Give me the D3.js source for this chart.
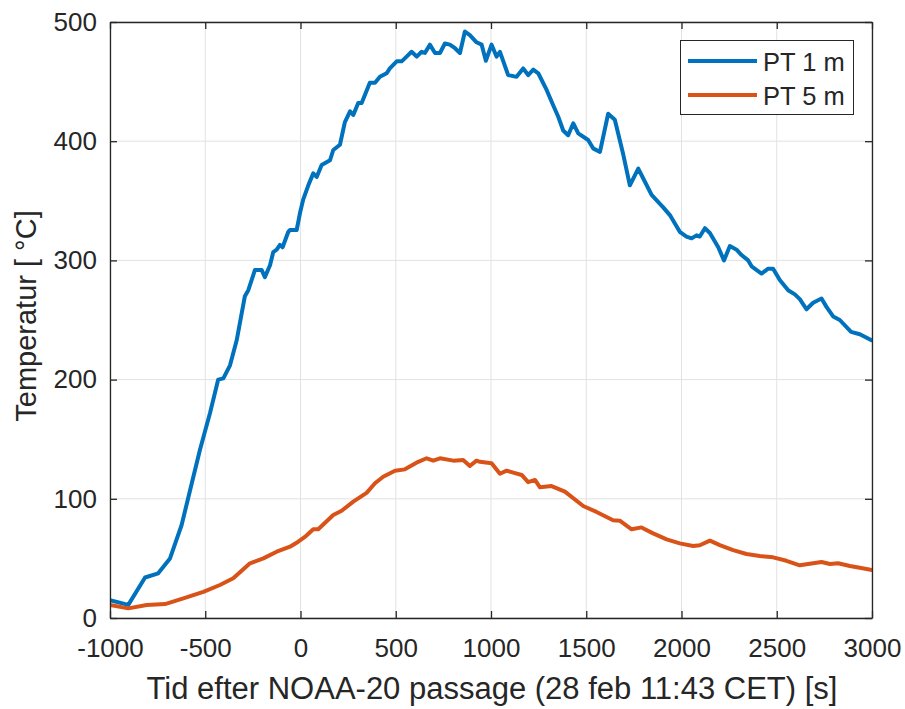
<!DOCTYPE html>
<html>
<head>
<meta charset="utf-8">
<script src="https://cdn.jsdelivr.net/npm/d3@7"></script>
<style>
  html, body { margin: 0; padding: 0; background: #fff; }
  svg { display: block; }
  text { font-family: "Liberation Sans", Arial, Helvetica, sans-serif; fill: #262626; }
</style>
</head>
<body>
<svg id="chart" width="905" height="709"></svg>
<script>
// ---- Data ----
const seriesNames = ["PT 1 m", "PT 5 m"];
const xTicks = [-1000, -500, 0, 500, 1000, 1500, 2000, 2500, 3000];
const yTicks = [0, 100, 200, 300, 400, 500];
const xLabel = "Tid efter NOAA-20 passage (28 feb 11:43 CET) [s]";
const yLabel = "Temperatur [ °C]";

// PT 1 m : [time s, temperature °C]
const pt1 = [
  [-1000, 15], [-904, 11], [-816, 34], [-747, 37.5], [-685, 50], [-624, 78], [-580, 107],
  [-528, 141], [-475, 172], [-432, 200], [-405, 201], [-370, 212], [-335, 233], [-292, 270],
  [-274, 275], [-239, 292], [-204, 292], [-187, 286], [-160, 296], [-143, 307], [-125, 309],
  [-108, 313], [-94, 311], [-64, 324], [-55, 325.5], [-20, 325.5], [-3, 339.5], [14, 351],
  [41, 363], [67, 373], [85, 370], [111, 380], [155, 384], [172, 392.6], [207, 397],
  [233, 416], [260, 425], [277, 422], [303, 432], [321, 432], [364, 449], [391, 449],
  [417, 454], [452, 457], [469, 461], [505, 467], [531, 467], [557, 471], [583, 475],
  [610, 471], [636, 475], [653, 474], [679, 481], [706, 474], [732, 474], [758, 482],
  [784, 481], [811, 478], [837, 474], [863, 492], [889, 489], [924, 483], [951, 481],
  [973, 467.5], [1003, 481], [1029, 471], [1047, 475], [1090, 455.5], [1134, 454],
  [1169, 461], [1195, 455.5], [1222, 460], [1248, 457], [1292, 443], [1327, 430],
  [1353, 420.5], [1379, 409], [1405, 405], [1432, 415], [1458, 406.6], [1510, 401],
  [1536, 394], [1572, 391], [1615, 423], [1650, 418], [1694, 389], [1729, 363], [1773, 377],
  [1808, 366], [1843, 355], [1904, 344.5], [1939, 338], [1991, 324], [2026, 320],
  [2053, 318.5], [2079, 321], [2096, 320], [2123, 327], [2149, 323], [2193, 311],
  [2223, 300], [2254, 312], [2289, 309], [2315, 304.5], [2350, 300], [2368, 295],
  [2420, 289], [2455, 293], [2481, 293], [2516, 283.6], [2560, 275], [2595, 271.5],
  [2621, 267.5], [2656, 259], [2691, 264.5], [2735, 268], [2761, 261], [2796, 253],
  [2831, 250], [2890, 240], [2936, 238], [2997, 233]
];

// PT 5 m : [time s, temperature °C]
const pt5 = [
  [-1000, 10.9], [-904, 8.1], [-807, 10.9], [-711, 11.7], [-615, 16.5], [-510, 22],
  [-423, 27.7], [-353, 33.3], [-265, 45.9], [-195, 50], [-125, 55.6], [-55, 59.8],
  [-12, 64], [23, 68], [67, 74.4], [93, 74.4], [172, 86.4], [216, 90], [277, 97.6],
  [347, 105], [391, 113], [434, 118.5], [496, 123.6], [548, 124.7], [618, 131], [662, 134],
  [697, 132], [732, 134], [802, 132], [854, 132.5], [889, 127.5], [924, 132], [942, 131],
  [1003, 129.8], [1047, 121], [1082, 123.6], [1117, 122], [1161, 120], [1195, 114],
  [1231, 115.8], [1257, 109.6], [1318, 110.7], [1388, 106], [1484, 94], [1554, 89],
  [1641, 82], [1676, 81.6], [1738, 74.4], [1790, 76], [1851, 71], [1922, 66], [1991, 62.6],
  [2061, 60.4], [2096, 61], [2149, 64.9], [2201, 61.2], [2271, 57], [2341, 53.7],
  [2411, 52], [2481, 50.9], [2551, 48], [2621, 44.2], [2691, 45.9], [2735, 47],
  [2779, 45.3], [2822, 45.9], [2884, 43.6], [2936, 42.2], [3000, 40.3]
];

const seriesData = [pt1, pt5];
const seriesColors = ["#0072BD", "#D95319"];

// ---- Layout ----
const svg = d3.select("#chart");
const mLeft = 110, mRight = 872, mTop = 22, mBottom = 618;
const x = d3.scaleLinear().domain([-1000, 3000]).range([mLeft, mRight]);
const y = d3.scaleLinear().domain([0, 500]).range([mBottom, mTop]);
const axisColor = "#262626";
const tickFont = 26;
const xLabelFont = 31;
const yLabelFont = 29;
const legendFont = 25.5;
const fmt = d => String(d); // plain hyphen-minus like the reference

// grid
const grid = svg.append("g").attr("class", "grid");
grid.selectAll("line.gx").data(xTicks).join("line").attr("class", "gx")
  .attr("x1", d => x(d)).attr("x2", d => x(d)).attr("y1", mTop).attr("y2", mBottom)
  .attr("stroke", "#e2e2e2").attr("stroke-width", 1);
grid.selectAll("line.gy").data(yTicks).join("line").attr("class", "gy")
  .attr("y1", d => y(d)).attr("y2", d => y(d)).attr("x1", mLeft).attr("x2", mRight)
  .attr("stroke", "#e2e2e2").attr("stroke-width", 1);

// series
const line = d3.line().x(d => x(d[0])).y(d => y(d[1])).curve(d3.curveLinear);
svg.append("clipPath").attr("id", "clip").append("rect")
  .attr("x", mLeft).attr("y", mTop).attr("width", mRight - mLeft).attr("height", mBottom - mTop);
svg.append("g").attr("clip-path", "url(#clip)")
  .selectAll("path").data(seriesData).join("path")
  .attr("d", d => line(d))
  .attr("fill", "none")
  .attr("stroke", (d, i) => seriesColors[i])
  .attr("stroke-width", 4)
  .attr("stroke-linejoin", "round")
  .attr("stroke-linecap", "round");

// axes (ticks inside)
const tickLen = 7;
const xAxisB = d3.axisBottom(x).tickValues(xTicks).tickSize(-tickLen).tickSizeOuter(0).tickPadding(21).tickFormat(fmt);
const xAxisT = d3.axisTop(x).tickValues(xTicks).tickSize(-tickLen).tickSizeOuter(0).tickFormat("");
const yAxisL = d3.axisLeft(y).tickValues(yTicks).tickSize(-tickLen).tickSizeOuter(0).tickPadding(13).tickFormat(fmt);
const yAxisR = d3.axisRight(y).tickValues(yTicks).tickSize(-tickLen).tickSizeOuter(0).tickFormat("");

function styleAxis(g) {
  g.select(".domain").attr("stroke", axisColor).attr("stroke-width", 1.3);
  g.selectAll(".tick line").attr("stroke", axisColor).attr("stroke-width", 1.3);
  g.selectAll(".tick text").attr("fill", axisColor).style("font-size", tickFont + "px")
    .style("font-family", '"Liberation Sans", Arial, sans-serif');
}
svg.append("g").attr("transform", `translate(0,${mBottom})`).call(xAxisB).call(styleAxis);
svg.append("g").attr("transform", `translate(0,${mTop})`).call(xAxisT).call(styleAxis);
svg.append("g").attr("transform", `translate(${mLeft},0)`).call(yAxisL).call(styleAxis);
svg.append("g").attr("transform", `translate(${mRight},0)`).call(yAxisR).call(styleAxis);

// axis labels
svg.append("text").attr("x", 492).attr("y", 699)
  .attr("text-anchor", "middle").style("font-size", xLabelFont + "px").text(xLabel);
svg.append("text").attr("transform", `translate(36,316) rotate(-90)`)
  .attr("text-anchor", "middle").style("font-size", yLabelFont + "px").text(yLabel);

// legend
const lg = svg.append("g");
lg.append("rect").attr("x", 680.5).attr("y", 40.5).attr("width", 173).attr("height", 74)
  .attr("fill", "#fff").attr("stroke", axisColor).attr("stroke-width", 1);
seriesNames.forEach((name, i) => {
  const ly = 61 + i * 34;
  lg.append("line").attr("x1", 688).attr("x2", 757).attr("y1", ly).attr("y2", ly)
    .attr("stroke", seriesColors[i]).attr("stroke-width", 4);
  lg.append("text").attr("x", 763).attr("y", ly + 9.5).style("font-size", legendFont + "px").text(name);
});
</script>
</body>
</html>
